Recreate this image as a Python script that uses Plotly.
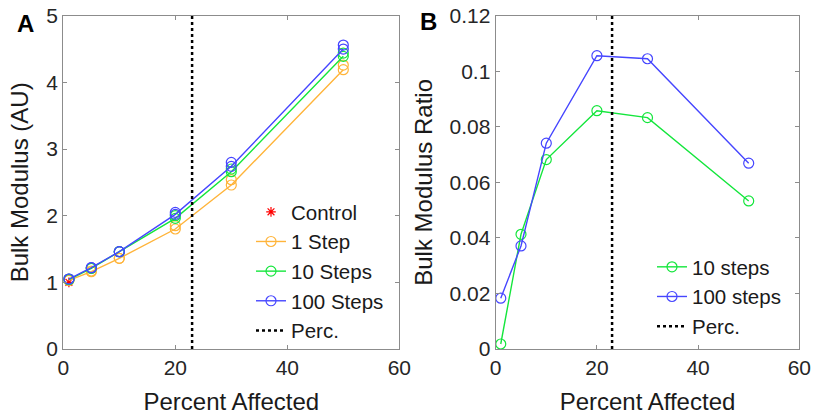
import plotly.graph_objects as go

# ---------------- data ----------------
pct = [1, 5, 10, 20, 30, 50]

control_x = [1]
control_y = [1.0]

step1_a = [1.03, 1.16, 1.36, 1.80, 2.46, 4.19]
step1_b = [1.03, 1.17, 1.36, 1.85, 2.54, 4.26]
step10_a = [1.04, 1.21, 1.46, 1.96, 2.66, 4.39]
step10_b = [1.05, 1.21, 1.46, 2.00, 2.70, 4.44]
step100_a = [1.05, 1.22, 1.46, 2.02, 2.74, 4.50]
step100_b = [1.05, 1.22, 1.46, 2.05, 2.80, 4.56]

ratio10 = [0.0018, 0.0413, 0.0682, 0.0858, 0.0833, 0.0533]
ratio100 = [0.0183, 0.0371, 0.0741, 0.1056, 0.1045, 0.0669]

perc_x = 23
x_ticks = [0, 20, 40, 60]
yA_ticks = [0, 1, 2, 3, 4, 5]
yB_ticks = [0, 0.02, 0.04, 0.06, 0.08, 0.1, 0.12]
yB_labels = ["0", "0.02", "0.04", "0.06", "0.08", "0.1", "0.12"]

ORANGE = "#FFB43A"
GREEN = "#14E63C"
BLUE = "#4646FF"
FONT = "Liberation Sans, Arial, sans-serif"

W, H = 813, 418


def px(x):
    return x / W


def py(y):
    return 1 - y / H


fig = go.Figure()

# ---- panel A ----
fig.add_trace(go.Scatter(x=control_x, y=control_y, mode="markers", name="Control",
                         marker=dict(symbol="asterisk-open", size=8, color="red",
                                     line=dict(color="red", width=1.2)),
                         xaxis="x", yaxis="y", legend="legend"))
for name, a, b, col in [("1 Step", step1_a, step1_b, ORANGE),
                        ("10 Steps", step10_a, step10_b, GREEN),
                        ("100 Steps", step100_a, step100_b, BLUE)]:
    fig.add_trace(go.Scatter(x=pct, y=b, mode="markers", showlegend=False,
                             marker=dict(symbol="circle-open", size=10, color=col,
                                         line=dict(color=col, width=1.2)),
                             xaxis="x", yaxis="y", hoverinfo="skip"))
    fig.add_trace(go.Scatter(x=pct, y=a, mode="lines+markers", name=name,
                             line=dict(color=col, width=1.4),
                             marker=dict(symbol="circle-open", size=10, color=col,
                                         line=dict(color=col, width=1.2)),
                             xaxis="x", yaxis="y", legend="legend"))
fig.add_trace(go.Scatter(x=[perc_x, perc_x], y=[yA_ticks[0], yA_ticks[-1]], mode="lines",
                         name="Perc.", line=dict(color="black", width=2.5, dash="dot"),
                         xaxis="x", yaxis="y", legend="legend"))

# ---- panel B ----
for name, vals, col in [("10 steps", ratio10, GREEN), ("100 steps", ratio100, BLUE)]:
    fig.add_trace(go.Scatter(x=pct, y=vals, mode="lines+markers", name=name,
                             line=dict(color=col, width=1.4),
                             marker=dict(symbol="circle-open", size=10, color=col,
                                         line=dict(color=col, width=1.2)),
                             xaxis="x2", yaxis="y2", legend="legend2"))
fig.add_trace(go.Scatter(x=[perc_x, perc_x], y=[yB_ticks[0], yB_ticks[-1]], mode="lines",
                         name="Perc.", line=dict(color="black", width=2.5, dash="dot"),
                         xaxis="x2", yaxis="y2", legend="legend2"))

yd = [py(349), py(15.7)]
axis_common = dict(showgrid=False, zeroline=False, showline=True, linecolor="#8c8c8c",
                   linewidth=1.2, mirror="ticks", ticks="inside", ticklen=4,
                   tickcolor="#8c8c8c", tickfont=dict(size=21, color="#262626", family=FONT),
                   ticklabeloverflow="allow", automargin=False)

fig.update_layout(
    width=W, height=H, margin=dict(l=0, r=0, t=0, b=0),
    paper_bgcolor="white", plot_bgcolor="white",
    font=dict(family=FONT, color="#1a1a1a"),
    xaxis=dict(domain=[px(63.3), px(399.3)], range=[0, 60], tickvals=x_ticks,
               title=dict(text="Percent Affected", font=dict(size=24), standoff=14),
               anchor="y", **axis_common),
    yaxis=dict(domain=yd, range=[0, 5], tickvals=yA_ticks,
               title=dict(text="Bulk Modulus (AU)", font=dict(size=24), standoff=10),
               anchor="x", **axis_common),
    xaxis2=dict(domain=[px(495.7), px(799.3)], range=[0, 60], tickvals=x_ticks,
                title=dict(text="Percent Affected", font=dict(size=24), standoff=14),
                anchor="y2", **axis_common),
    yaxis2=dict(domain=yd, range=[0, 0.12], tickvals=yB_ticks, ticktext=yB_labels,
                title=dict(text="Bulk Modulus Ratio", font=dict(size=24), standoff=10),
                anchor="x2", **axis_common),
    legend=dict(x=px(251), y=py(192), xanchor="left", yanchor="top",
                bgcolor="rgba(0,0,0,0)", font=dict(size=20.5, color="#1a1a1a"),
                tracegroupgap=0),
    legend2=dict(x=px(652), y=py(247), xanchor="left", yanchor="top",
                 bgcolor="rgba(0,0,0,0)", font=dict(size=20.5, color="#1a1a1a"),
                 tracegroupgap=0),
    showlegend=True,
    annotations=[
        dict(text="<b>A</b>", x=px(25), y=py(23), xref="paper", yref="paper",
             xanchor="center", yanchor="middle",
             showarrow=False, font=dict(size=24, color="black")),
        dict(text="<b>B</b>", x=px(428), y=py(22), xref="paper", yref="paper",
             xanchor="center", yanchor="middle",
             showarrow=False, font=dict(size=24, color="black")),
    ],
)

fig.write_html("out.html",
               config={"displayModeBar": False},
               post_script="document.body.style.margin='0px';document.body.style.overflow='hidden';")
